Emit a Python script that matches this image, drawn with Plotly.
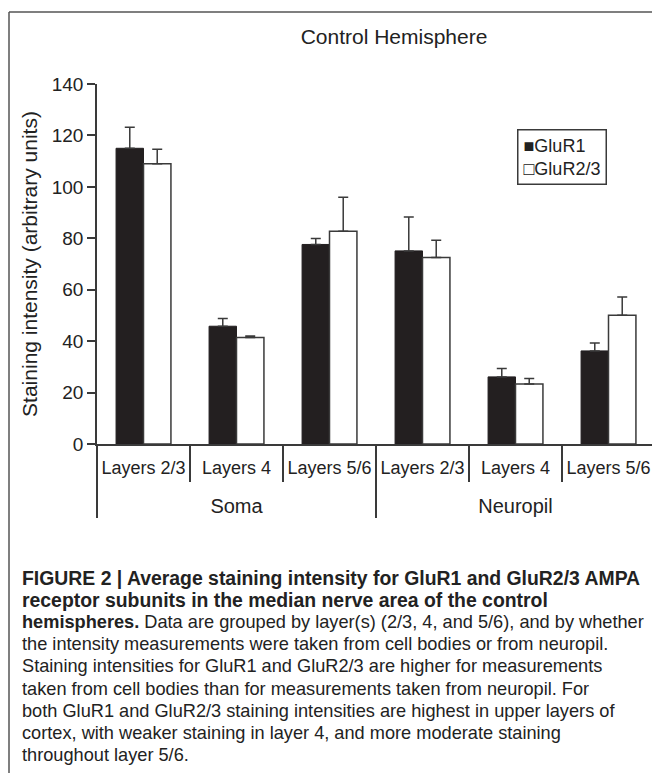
import plotly.graph_objects as go

groups = ['Soma', 'Soma', 'Soma', 'Neuropil', 'Neuropil', 'Neuropil']
layers = ['Layers 2/3', 'Layers 4', 'Layers 5/6', 'Layers 2/3', 'Layers 4', 'Layers 5/6']

series = ['GluR1', 'GluR2/3']
glur1 = [115, 45.8, 77.6, 75.1, 26.1, 36.2]
glur1_err = [8.2, 3.0, 2.3, 13.2, 3.3, 3.1]
glur23 = [109, 41.4, 82.7, 72.5, 23.3, 50.1]
glur23_err = [5.6, 0.6, 13.3, 6.7, 2.2, 7.1]

caption = [
    '<b>FIGURE 2 | Average staining intensity for GluR1 and GluR2/3 AMPA</b>',
    '<b>receptor subunits in the median nerve area of the control</b>',
    '<b>hemispheres.</b> Data are grouped by layer(s) (2/3, 4, and 5/6), and by whether',
    'the intensity measurements were taken from cell bodies or from neuropil.',
    'Staining intensities for GluR1 and GluR2/3 are higher for measurements',
    'taken from cell bodies than for measurements taken from neuropil. For',
    'both GluR1 and GluR2/3 staining intensities are highest in upper layers of',
    'cortex, with weaker staining in layer 4, and more moderate staining',
    'throughout layer 5/6.',
]

# the page body has an 8px margin, so the figure is drawn 8px in from the window
OFF = 8
W, H = 660 - OFF, 773 - OFF
X0, X1, Y0, Y1 = 97, 655, 84, 444  # plot area in window pixels
ink = '#3a3a3a'


def px_x(x):
    return (x - X0) / (X1 - X0)


def px_y(y):
    return (Y1 - y) / (Y1 - Y0)


# blank first line drops the group names (and the dividers) a row lower
group_labels = ['<br><span style="font-size:20px">' + g + '</span>' for g in groups]

fig = go.Figure()
fig.add_trace(go.Bar(
    x=[group_labels, layers], y=glur1, name=series[0],
    marker=dict(color='#231f20', line=dict(color='#231f20', width=1)),
    error_y=dict(type='data', array=glur1_err, symmetric=False, arrayminus=[0] * 6,
                 color=ink, thickness=1.5, width=5),
))
fig.add_trace(go.Bar(
    x=[group_labels, layers], y=glur23, name=series[1],
    marker=dict(color='white', line=dict(color=ink, width=1.5)),
    error_y=dict(type='data', array=glur23_err, symmetric=False, arrayminus=[0] * 6,
                 color=ink, thickness=1.5, width=5),
))

font = "'Liberation Sans', Arial, sans-serif"
fig.update_layout(
    width=W, height=H,
    margin=dict(l=X0 - OFF, r=660 - X1, t=Y0 - OFF, b=773 - Y1, autoexpand=False),
    paper_bgcolor='white', plot_bgcolor='white',
    font=dict(family=font, color='#222', size=18),
    barmode='group', bargap=0.41, bargroupgap=0,
    title=dict(text='Control Hemisphere', x=(394 - OFF) / W, xanchor='center',
               y=1 - (37 - OFF) / H, yanchor='middle', font=dict(size=21, color='#222')),
    showlegend=False,
)
fig.update_yaxes(
    range=[0, 140], dtick=20, showgrid=False, zeroline=False, automargin=False,
    showline=True, linecolor=ink, linewidth=1.5,
    ticks='outside', ticklen=8, tickwidth=1.5, tickcolor=ink,
    tickfont=dict(size=19),
    title=dict(text='Staining intensity (arbitrary units)', font=dict(size=21), standoff=8),
)
fig.update_xaxes(
    type='multicategory', showgrid=False, automargin=False, tickangle=0,
    showline=True, linecolor=ink, linewidth=1.5,
    ticks='outside', tickson='boundaries', ticklen=36, tickwidth=1.5, tickcolor=ink,
    showdividers=True, dividercolor=ink, dividerwidth=1.5,
    tickfont=dict(size=18), ticklabelstandoff=7,
)

# legend box, drawn as text so the swatches sit tight against the names
fig.add_annotation(
    text='■' + series[0] + '<br>□' + series[1],
    xref='paper', yref='paper', x=px_x(517), y=px_y(129),
    xanchor='left', yanchor='top', align='left', showarrow=False,
    bordercolor=ink, borderwidth=1.5, borderpad=5, bgcolor='white',
    font=dict(size=18, color='#222'),
)

# figure frame (left and top edges)
fig.add_shape(type='line', xref='paper', yref='paper',
              x0=px_x(9), x1=px_x(670), y0=px_y(12), y1=px_y(12),
              line=dict(color='#555', width=1.5))
fig.add_shape(type='line', xref='paper', yref='paper',
              x0=px_x(9), x1=px_x(9), y0=px_y(12), y1=px_y(790),
              line=dict(color='#555', width=1.5))

for i, line in enumerate(caption):
    if i < 2:
        line = '<span style="font-size:19.4px">' + line + '</span>'
    fig.add_annotation(
        text=line, xref='paper', yref='paper',
        x=px_x(20), y=px_y(578 + i * 22.1), xanchor='left', yanchor='middle',
        showarrow=False, align='left',
        font=dict(family=font, size=18.2, color='#222'),
    )

fig.write_html("out.html")
